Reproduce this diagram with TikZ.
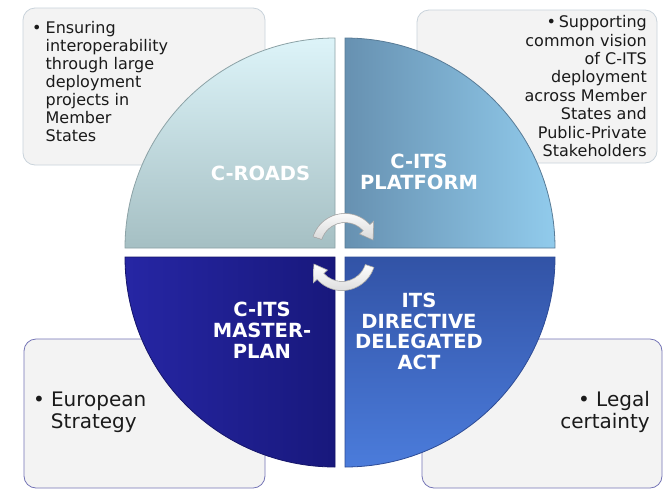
\documentclass[tikz,border=0pt]{standalone}
\usepackage{fontspec}
\setmainfont{DejaVu Sans}
\usetikzlibrary{shadings}
\definecolor{boxfill}{HTML}{F3F3F3}
\definecolor{topborder}{HTML}{C9D3DB}
\definecolor{botborder}{HTML}{7474B6}
\definecolor{tlTop}{HTML}{DDF4F9}
\definecolor{tlBot}{HTML}{A5BFC3}
\definecolor{trLeft}{HTML}{6791B1}
\definecolor{trRight}{HTML}{91CBEC}
\definecolor{blLeft}{HTML}{2626A4}
\definecolor{blRight}{HTML}{18187C}
\definecolor{brTop}{HTML}{3253A6}
\definecolor{brBot}{HTML}{4B7CDB}
\definecolor{txt}{HTML}{1A1A1A}
\tikzset{
  infobox/.style={fill=boxfill, rounded corners=12pt, line width=0.8pt},
  quad/.style={line width=0.8pt},
  qlabel/.style={text=white, font=\fontsize{19.5}{20.7}\selectfont\bfseries, inner sep=0pt, anchor=base},
  smalltext/.style={text=txt, font=\fontsize{16}{18}\selectfont, inner sep=0pt},
  smalltextr/.style={text=txt, font=\fontsize{16}{18.4}\selectfont, inner sep=0pt},
  bigtext/.style={text=txt, font=\fontsize{20}{22.3}\selectfont, inner sep=0pt},
  cyclearrow/.style={top color=white, bottom color=gray!30, draw=gray!60, line width=0.6pt},
}
\begin{document}
\begin{tikzpicture}[x=1pt,y=-1pt]
\fill[white] (0,0) rectangle (669,491);
\useasboundingbox (0,0) rectangle (669,491);
% info boxes
\draw[infobox, draw=topborder] (23,8) rectangle (265,165);
\draw[infobox, draw=topborder] (417,10) rectangle (657,163);
\draw[infobox, draw=botborder] (24,339) rectangle (265,488);
\draw[infobox, draw=botborder] (422,339) rectangle (662,488);
% box texts
\node[smalltext, anchor=base west] (tltext) at (32,33.3)
  {\begin{tabular}[t]{@{}l@{\hspace{4pt}}l@{}}•&Ensuring\\&interoperability\\&through large\\&deployment\\&projects in\\&Member\\&States\end{tabular}};
\node[smalltextr, anchor=base east] (trtext) at (647,27.7)
  {\begin{tabular}[t]{@{}r@{}}•\,Supporting\\common vision\\of C-ITS\\deployment\\across Member\\States and\\Public-Private\\Stakeholders\end{tabular}};
\node[bigtext, anchor=base west] (bltext) at (33,406)
  {\begin{tabular}[t]{@{}l@{\hspace{6pt}}l@{}}•&European\\&Strategy\end{tabular}};
\node[bigtext, anchor=base east] (brtext) at (650,406)
  {\begin{tabular}[t]{@{}r@{}}• Legal\\certainty\end{tabular}};
% quadrants
\shade[quad, top color=tlTop, bottom color=tlBot, draw=tlBot!85!black]
  (335,248) -- (125,248) arc[start angle=180, end angle=270, radius=210] -- cycle;
\shade[quad, left color=trLeft, right color=trRight, draw=trLeft!85!black]
  (345,248) -- (345,38) arc[start angle=270, end angle=360, radius=210] -- cycle;
\shade[quad, left color=blLeft, right color=blRight, draw=blRight!85!black]
  (335,257) -- (335,467) arc[start angle=90, end angle=180, radius=210] -- cycle;
\shade[quad, top color=brTop, bottom color=brBot, draw=brTop!90!black]
  (345,257) -- (555,257) arc[start angle=0, end angle=90, radius=210] -- cycle;
% labels
\node[qlabel] (croads) at (260.5,180) {C-ROADS};
\node[qlabel] (platform) at (419,168.5) {\begin{tabular}[t]{@{}c@{}}C-ITS\\PLATFORM\end{tabular}};
\node[qlabel] (master) at (262,316.7) {\begin{tabular}[t]{@{}c@{}}C-ITS\\MASTER-\\PLAN\end{tabular}};
\node[qlabel] (directive) at (419,307.3) {\begin{tabular}[t]{@{}c@{}}ITS\\DIRECTIVE\\DELEGATED\\ACT\end{tabular}};
% cycle arrows
\begin{scope}[shift={(345,247)}, yscale=-1]
  \filldraw[cyclearrow] (162:33.5) arc[start angle=162, end angle=42, radius=33.5]
    -- (42:38.5) -- (14:29) -- (42:19.5) -- (42:24.5)
    arc[start angle=42, end angle=162, radius=24.5] -- cycle;
\end{scope}
\begin{scope}[shift={(342,257)}, yscale=-1, rotate=180]
  \filldraw[cyclearrow] (162:33.5) arc[start angle=162, end angle=42, radius=33.5]
    -- (42:38.5) -- (14:29) -- (42:19.5) -- (42:24.5)
    arc[start angle=42, end angle=162, radius=24.5] -- cycle;
\end{scope}
\end{tikzpicture}
\end{document}
